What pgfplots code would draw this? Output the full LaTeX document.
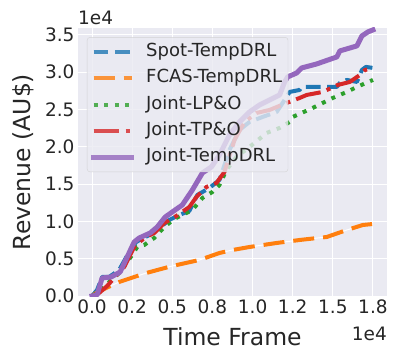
\documentclass[border=0pt]{standalone}
\usepackage{pgfplots}
\pgfplotsset{compat=1.18}
\usepackage{fontspec}
\setmainfont{DejaVu Sans}
\usetikzlibrary{calc}
\definecolor{bgc}{HTML}{EAEAF2}
\definecolor{txt}{HTML}{262626}
\definecolor{cblue}{HTML}{1F77B4}
\definecolor{corange}{HTML}{FF7F0E}
\definecolor{cgreen}{HTML}{2CA02C}
\definecolor{cred}{HTML}{D62728}
\definecolor{cpurple}{HTML}{9467BD}
\pgfplotsset{legend image code/.code={\draw[#1] (0bp,0bp) -- (38bp,0bp);}}
\begin{document}
\begin{tikzpicture}
\begin{axis}[name=ax,
  scale only axis, width=309bp, height=268bp,
  xmin=-875, xmax=18375, ymin=0, ymax=35900,
  axis background/.style={fill=bgc},
  axis line style={draw=none},
  tick style={draw=none},
  grid=major, major grid style={white, line width=1bp},
  scaled ticks=false,
  /pgf/number format/assume math mode=true,
  xtick={0,2500,5000,7500,10000,12500,15000,17500},
  xticklabels={0.0,0.2,0.5,0.8,1.0,1.2,1.5,1.8},
  ytick={0,5000,10000,15000,20000,25000,30000,35000},
  yticklabels={0.0,0.5,1.0,1.5,2.0,2.5,3.0,3.5},
  ticklabel style={font=\fontsize{18.5bp}{20bp}\selectfont, text=txt},
  legend cell align=left,
  legend style={at={(0.029,0.966)}, anchor=north west,
    fill=bgc, fill opacity=0.8, draw=black!20, draw opacity=0.8, text opacity=1,
    rounded corners=3bp, inner sep=4bp,
    font=\fontsize{18bp}{19bp}\selectfont, text=txt,
    nodes={inner sep=2bp, text height=13bp, text depth=4bp},
    row sep=5.4bp, column sep=10bp},
  line join=round,
]
\addplot[cblue, line width=4bp, dash pattern=on 14.8bp off 6.4bp] coordinates {
(0,0) (312,804) (625,2546) (1062,2546) (1688,3484) (2312,5896) (2750,7236) (3562,8174)
(4188,9112) (4812,10184) (5438,10854) (6062,11390) (6562,13534) (7312,14472) (7938,15544)
(8562,19564) (9188,22244) (9812,23316) (10625,23986) (11500,24656) (11875,25862) (12312,27336)
(12938,27604) (13062,28006) (15250,28006) (15438,28542) (15875,28944) (16500,28676)
(16812,30284) (17062,30686) (17500,30552)};
\addlegendentry{Spot-TempDRL}
\addplot[white, line width=1bp, forget plot] coordinates {
(0,0) (250,402) (875,1072) (1688,1876) (3375,3082) (5000,4020) (6688,4824) (7938,5762)
(8750,6164) (9812,6566) (11500,7102) (12938,7504) (14625,7906) (15875,8844) (16875,9514) (17500,9648)};
\addplot[corange, line width=4bp, dash pattern=on 21bp off 9bp] coordinates {
(0,0) (250,402) (875,1072) (1688,1876) (3375,3082) (5000,4020) (6688,4824) (7938,5762)
(8750,6164) (9812,6566) (11500,7102) (12938,7504) (14625,7906) (15875,8844) (16875,9514) (17500,9648)};
\addlegendentry{FCAS-TempDRL}
\addplot[cgreen, line width=4bp, dash pattern=on 4bp off 6.6bp] coordinates {
(0,0) (438,536) (1062,1876) (1688,3082) (2188,4556) (2500,5494) (2812,6566) (3250,6834)
(3875,7772) (4500,9246) (5125,10318) (5750,10988) (6250,11524) (6875,13132) (7500,13936)
(7938,14874) (8375,16884) (9000,18626) (9812,19966) (10875,21842) (11688,22512) (12312,23316)
(12500,23986) (13750,25192) (15000,26532) (15875,27336) (16500,28006) (17500,28944)};
\addlegendentry{Joint-LP\&O}
\addplot[cred, line width=4bp, dash pattern=on 25.6bp off 6.4bp on 4bp off 6.4bp] coordinates {
(0,0) (438,402) (938,1340) (1375,2412) (2000,3886) (2625,6566) (3250,7772) (3875,8442)
(4500,9782) (5250,10720) (6062,11926) (6500,13266) (7125,14606) (7750,15142) (8250,16616)
(8875,20904) (9500,23316) (10250,24522) (11062,24924) (12125,25862) (12938,26532) (13375,26934)
(14375,27336) (15312,28274) (16062,28676) (16688,29614) (17000,30284) (17500,30418)};
\addlegendentry{Joint-TP\&O}
\addplot[cpurple, line width=5bp, line cap=rect] coordinates {
(0,0) (312,134) (625,2412) (1188,2546) (1750,3216) (2188,5226) (2625,7236) (2938,7772)
(3625,8442) (4062,9246) (4562,10586) (5000,11256) (5625,12194) (6250,14204) (6875,16482)
(7438,17286) (7938,18894) (8562,21574) (9188,23316) (9812,24656) (10438,25594) (11062,26264)
(11688,26934) (12000,28676) (12188,29346) (12750,29882) (13062,30552) (14000,31088)
(15250,32026) (15438,32830) (16500,33500) (16812,34840) (17188,35376) (17500,35644)};
\addlegendentry{Joint-TempDRL}
\end{axis}
\node[anchor=base west, inner sep=0, text=txt, font=\fontsize{18.5bp}{20bp}\selectfont]
  at ($(ax.north west)+(0bp,3bp)$) {1e4};
\node[anchor=north east, inner sep=0, text=txt, font=\fontsize{18.5bp}{20bp}\selectfont]
  at ($(ax.south east)+(0bp,-31bp)$) {1e4};
\node[anchor=north, inner sep=0, text=txt, font=\fontsize{23.5bp}{26bp}\selectfont]
  at ($(ax.south)+(0bp,-31bp)$) {Time Frame};
\node[anchor=north, rotate=90, inner sep=0, text=txt, font=\fontsize{23.5bp}{26bp}\selectfont]
  at ($(ax.west)+(-66bp,0bp)$) {Revenue (AU\$)};
\pgfresetboundingbox
\useasboundingbox ($(ax.south west)+(-78bp,-67bp)$) rectangle ($(ax.north east)+(12bp,28bp)$);
\end{tikzpicture}
\end{document}
